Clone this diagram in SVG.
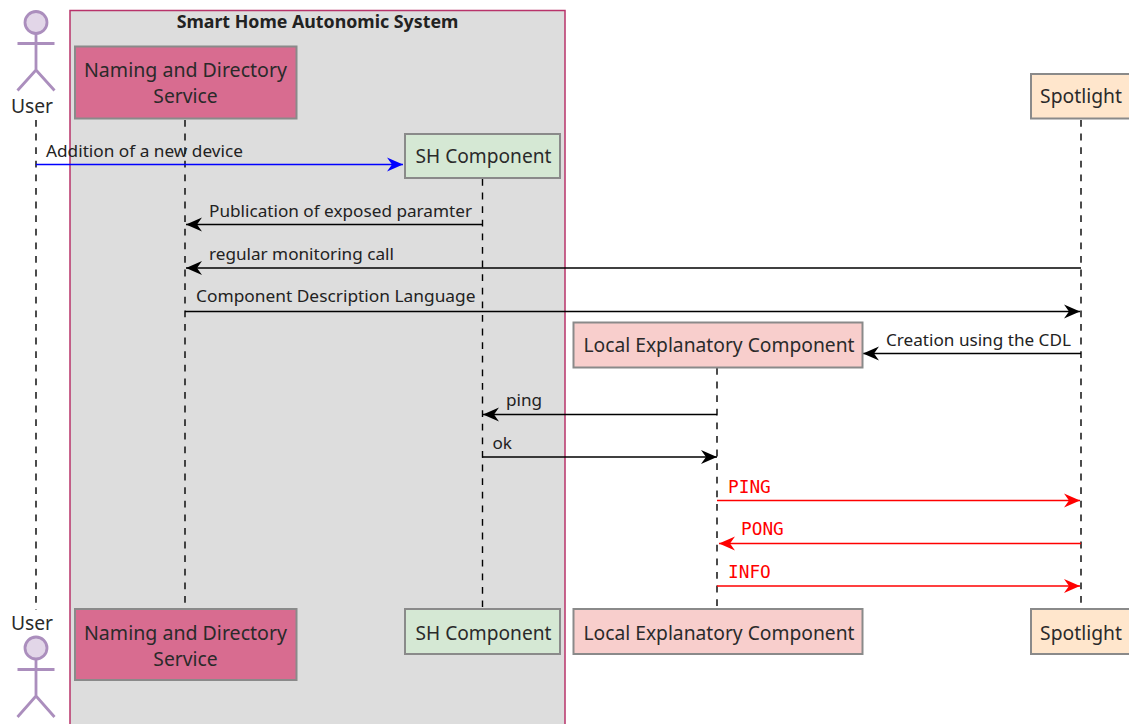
<svg xmlns="http://www.w3.org/2000/svg" width="1129" height="724" viewBox="0 0 1129 724">
<style>
text{font-family:"Noto Sans","DejaVu Sans",sans-serif;fill:#222}
.n{font-size:19.3px;text-anchor:middle;fill:#2a2a2a}
.m{font-size:17.15px}
.r{font-family:"DejaVu Sans Mono","Liberation Mono",monospace;font-size:17.8px;fill:#ff0000}
.box{stroke:#8a8a8a;stroke-width:2}
.life{stroke:#000;stroke-width:1.4;stroke-dasharray:6.8 6.8;fill:none}
.a{stroke-width:1.4;fill:none}
.actor{stroke:#ab8ebd;stroke-width:2.8;fill:none}
</style>
<defs>
<marker id="ak" markerUnits="userSpaceOnUse" markerWidth="18" markerHeight="16" refX="17" refY="8" orient="auto"><path d="M1 1L17 8L1 15L6 8Z" fill="#000"/></marker>
<marker id="ab" markerUnits="userSpaceOnUse" markerWidth="18" markerHeight="16" refX="17" refY="8" orient="auto"><path d="M1 1L17 8L1 15L6 8Z" fill="#0000ff"/></marker>
<marker id="ar" markerUnits="userSpaceOnUse" markerWidth="18" markerHeight="16" refX="17" refY="8" orient="auto"><path d="M1 1L17 8L1 15L6 8Z" fill="#ff0000"/></marker>
</defs>
<rect width="1129" height="724" fill="#fff"/>
<g id="box-system">
<rect x="70" y="10.500" width="495" height="730" fill="#dddddd" stroke="#b8336a" stroke-width="1.500"/>
<text x="317.500" y="28" font-size="17.800" font-weight="700" text-anchor="middle">Smart Home Autonomic System</text>
</g>
<g id="lifelines">
<line class="life" x1="36" y1="120" x2="36" y2="610"/>
<line class="life" x1="185" y1="120" x2="185" y2="604"/>
<line class="life" x1="482.500" y1="179" x2="482.500" y2="607"/>
<line class="life" x1="717" y1="368" x2="717" y2="607"/>
<line class="life" x1="1081" y1="120" x2="1081" y2="604"/>
</g>
<g id="connectors">
<line class="a" x1="36" y1="164.500" x2="403" y2="164.500" stroke="#0000ff" marker-end="url(#ab)"/>
<line class="a" x1="482" y1="224.500" x2="186" y2="224.500" stroke="#000" marker-end="url(#ak)"/>
<line class="a" x1="1081" y1="268" x2="186" y2="268" stroke="#000" marker-end="url(#ak)"/>
<line class="a" x1="185" y1="311.500" x2="1080" y2="311.500" stroke="#000" marker-end="url(#ak)"/>
<line class="a" x1="1081" y1="353.500" x2="863" y2="353.500" stroke="#000" marker-end="url(#ak)"/>
<line class="a" x1="717" y1="414.500" x2="483" y2="414.500" stroke="#000" marker-end="url(#ak)"/>
<line class="a" x1="482" y1="457" x2="717" y2="457" stroke="#000" marker-end="url(#ak)"/>
<line class="a" x1="717" y1="500.500" x2="1080" y2="500.500" stroke="#ff0000" marker-end="url(#ar)"/>
<line class="a" x1="1081" y1="543.500" x2="719" y2="543.500" stroke="#ff0000" marker-end="url(#ar)"/>
<line class="a" x1="717" y1="586" x2="1080" y2="586" stroke="#ff0000" marker-end="url(#ar)"/>
</g>
<g id="labels">
<text class="m" x="46" y="156.500" textLength="197" lengthAdjust="spacingAndGlyphs">Addition of a new device</text>
<text class="m" x="209" y="216.500" textLength="263" lengthAdjust="spacingAndGlyphs">Publication of exposed paramter</text>
<text class="m" x="209" y="260">regular monitoring call</text>
<text class="m" x="196" y="302" textLength="279.500" lengthAdjust="spacingAndGlyphs">Component Description Language</text>
<text class="m" x="886" y="345.500">Creation using the CDL</text>
<text class="m" x="506" y="405.500">ping</text>
<text class="m" x="492.500" y="448.500">ok</text>
<text class="r" x="728" y="492.500">PING</text>
<text class="r" x="741" y="534.500">PONG</text>
<text class="r" x="728" y="578">INFO</text>
</g>
<g id="user-top">
<circle class="actor" cx="36" cy="22.500" r="11" style="fill:#e2d6e8"/>
<path class="actor" d="M36 34V70M17.500 43.500H54.500M36 70L17.500 90.500M36 70L54.500 90.500"/>
<text class="n" x="32" y="113">User</text>
</g>
<g id="user-bottom">
<text class="n" x="32" y="630">User</text>
<circle class="actor" cx="36" cy="648" r="11" style="fill:#e2d6e8"/>
<path class="actor" d="M36 659.500V696M17.500 669.500H54.500M36 696L17.500 717M36 696L54.500 717"/>
</g>
<g id="naming-top">
<rect class="box" x="75" y="46.500" width="221.500" height="72" fill="#d86c90"/>
<text class="n" x="185.500" y="77" textLength="203" lengthAdjust="spacingAndGlyphs">Naming and Directory</text>
<text class="n" x="185.500" y="103">Service</text>
</g>
<g id="naming-bottom">
<rect class="box" x="75" y="609" width="221.500" height="71" fill="#d86c90"/>
<text class="n" x="185.500" y="640" textLength="203" lengthAdjust="spacingAndGlyphs">Naming and Directory</text>
<text class="n" x="185.500" y="665.500">Service</text>
</g>
<g id="sh-top">
<rect class="box" x="405" y="134" width="155" height="44" fill="#d5e8d4"/>
<text class="n" x="483.500" y="162.500" textLength="136" lengthAdjust="spacingAndGlyphs">SH Component</text>
</g>
<g id="sh-bottom">
<rect class="box" x="405" y="609" width="155" height="45" fill="#d5e8d4"/>
<text class="n" x="483.500" y="639.500" textLength="136" lengthAdjust="spacingAndGlyphs">SH Component</text>
</g>
<g id="lec-top">
<rect class="box" x="573.500" y="322.500" width="289" height="45" fill="#f8cecc"/>
<text class="n" x="719" y="351.500" textLength="271" lengthAdjust="spacingAndGlyphs">Local Explanatory Component</text>
</g>
<g id="lec-bottom">
<rect class="box" x="573.500" y="609" width="289" height="45" fill="#f8cecc"/>
<text class="n" x="719" y="639.500" textLength="271" lengthAdjust="spacingAndGlyphs">Local Explanatory Component</text>
</g>
<g id="spot-top">
<rect class="box" x="1031" y="74" width="100" height="44.500" fill="#ffe6cc"/>
<text class="n" x="1081" y="102.500">Spotlight</text>
</g>
<g id="spot-bottom">
<rect class="box" x="1031" y="609" width="100" height="45" fill="#ffe6cc"/>
<text class="n" x="1081" y="639.500">Spotlight</text>
</g>
</svg>
